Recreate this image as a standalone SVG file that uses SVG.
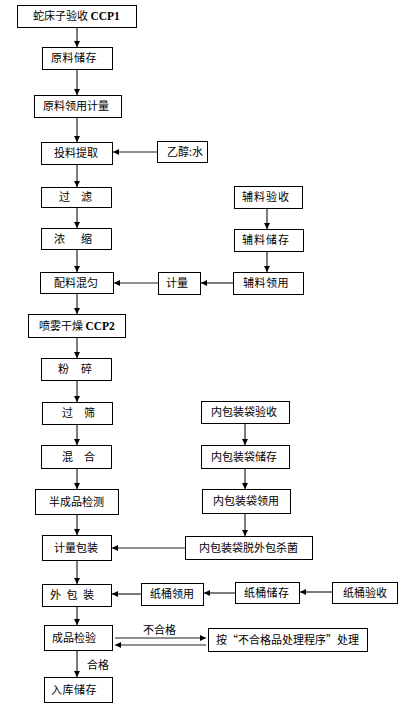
<svg xmlns="http://www.w3.org/2000/svg" width="412" height="709" viewBox="0 0 412 709">
<style>
.b{fill:#fff;stroke:#000;stroke-width:1}
.t{font-family:"Noto Sans CJK SC","Noto Sans",sans-serif;font-size:11px;fill:#000}
.e{font-family:"Liberation Serif",serif;font-weight:bold;font-size:11.5px}
.c line{stroke:#222;stroke-width:1.2;marker-end:url(#ah)}
</style>
<defs>
<marker id="ah" viewBox="0 0 8 8" refX="8" refY="4" markerWidth="6" markerHeight="6" markerUnits="userSpaceOnUse" orient="auto">
<path d="M0,0L8,4L0,8z" fill="#000"/>
</marker>
</defs>
<rect width="412" height="709" fill="#fff"/>
<g id="connectors" class="c">
<line x1="77" y1="27" x2="77" y2="47"/>
<line x1="77" y1="70" x2="77" y2="95"/>
<line x1="77" y1="117" x2="77" y2="142"/>
<line x1="77" y1="164" x2="77" y2="187"/>
<line x1="77" y1="207" x2="77" y2="228"/>
<line x1="77" y1="249" x2="77" y2="272"/>
<line x1="77" y1="293" x2="77" y2="314"/>
<line x1="77" y1="337" x2="77" y2="358"/>
<line x1="77" y1="380" x2="77" y2="402"/>
<line x1="77" y1="424" x2="77" y2="445"/>
<line x1="77" y1="468" x2="77" y2="489"/>
<line x1="77" y1="514" x2="77" y2="535"/>
<line x1="77" y1="560" x2="77" y2="584"/>
<line x1="77" y1="606" x2="77" y2="625"/>
<line x1="77" y1="650" x2="77" y2="677"/>
<line x1="157" y1="152" x2="113" y2="152"/>
<line x1="158" y1="283" x2="114" y2="283"/>
<line x1="233" y1="283" x2="201" y2="283"/>
<line x1="267" y1="208" x2="267" y2="229"/>
<line x1="267" y1="251" x2="267" y2="272"/>
<line x1="245" y1="423" x2="245" y2="445"/>
<line x1="245" y1="468" x2="245" y2="489"/>
<line x1="245" y1="513" x2="245" y2="536"/>
<line x1="185" y1="548" x2="112" y2="548"/>
<line x1="141" y1="594" x2="112" y2="594"/>
<line x1="235" y1="593" x2="204" y2="593"/>
<line x1="332" y1="592" x2="300" y2="592"/>
<line x1="115" y1="638" x2="206" y2="638"/>
<line x1="206" y1="645" x2="115" y2="645"/>
</g>
<g id="n1"><rect class="b" x="17.5" y="5.5" width="119" height="22"/><text class="t" x="33" y="20">蛇床子验收 <tspan class="e">CCP1</tspan></text></g>
<g id="n2"><rect class="b" x="42.5" y="47.5" width="70" height="22"/><text class="t" x="51" y="62" letter-spacing="0.5">原料储存</text></g>
<g id="n3"><rect class="b" x="34.5" y="95.5" width="87" height="22"/><text class="t" x="43" y="110">原料领用计量</text></g>
<g id="n4"><rect class="b" x="41.5" y="142.5" width="71" height="22"/><text class="t" x="54" y="157">投料提取</text></g>
<g id="n5"><rect class="b" x="157.5" y="141.5" width="50" height="21"/><text class="t" x="167" y="156">乙醇:水</text></g>
<g id="n6"><rect class="b" x="41.5" y="187.5" width="70" height="20"/><text class="t" x="59" y="201">过　滤</text></g>
<g id="n7"><rect class="b" x="41.5" y="228.5" width="70" height="21"/><text class="t" x="54" y="243" letter-spacing="2.5">浓　缩</text></g>
<g id="n8"><rect class="b" x="40.5" y="272.5" width="73" height="21"/><text class="t" x="54" y="287">配料混匀</text></g>
<g id="n9"><rect class="b" x="158.5" y="272.5" width="42" height="22"/><text class="t" x="166" y="287">计量</text></g>
<g id="n10"><rect class="b" x="28.5" y="314.5" width="97" height="23"/><text class="t" x="39" y="330">喷雾干燥 <tspan class="e">CCP2</tspan></text></g>
<g id="n11"><rect class="b" x="41.5" y="358.5" width="70" height="22"/><text class="t" x="58" y="373" letter-spacing="0.5">粉　碎</text></g>
<g id="n12"><rect class="b" x="42.5" y="402.5" width="70" height="22"/><text class="t" x="62" y="417">过　筛</text></g>
<g id="n13"><rect class="b" x="41.5" y="445.5" width="70" height="23"/><text class="t" x="62" y="461">混　合</text></g>
<g id="n14"><rect class="b" x="35.5" y="489.5" width="83" height="25"/><text class="t" x="49" y="506">半成品检测</text></g>
<g id="n15"><rect class="b" x="42.5" y="535.5" width="69" height="25"/><text class="t" x="54" y="552">计量包装</text></g>
<g id="n16"><rect class="b" x="42.5" y="584.5" width="69" height="22"/><text class="t" x="50" y="599" letter-spacing="5.5">外包装</text></g>
<g id="n17"><rect class="b" x="44.5" y="625.5" width="68" height="25"/><text class="t" x="52" y="642">成品检验</text></g>
<g id="n18"><rect class="b" x="44.5" y="677.5" width="68" height="25"/><text class="t" x="51" y="694" letter-spacing="0.5">入库储存</text></g>
<g id="n19"><rect class="b" x="234.5" y="186.5" width="68" height="22"/><text class="t" x="242" y="201" letter-spacing="1">辅料验收</text></g>
<g id="n20"><rect class="b" x="234.5" y="229.5" width="69" height="22"/><text class="t" x="242" y="244" letter-spacing="1">辅料储存</text></g>
<g id="n21"><rect class="b" x="233.5" y="272.5" width="70" height="22"/><text class="t" x="243" y="287" letter-spacing="0.5">辅料领用</text></g>
<g id="n22"><rect class="b" x="201.5" y="401.5" width="88" height="22"/><text class="t" x="211" y="416">内包装袋验收</text></g>
<g id="n23"><rect class="b" x="201.5" y="445.5" width="88" height="23"/><text class="t" x="211" y="461">内包装袋储存</text></g>
<g id="n24"><rect class="b" x="202.5" y="489.5" width="88" height="24"/><text class="t" x="213" y="505">内包装袋领用</text></g>
<g id="n25"><rect class="b" x="185.5" y="536.5" width="127" height="23"/><text class="t" x="199" y="552">内包装袋脱外包杀菌</text></g>
<g id="n26"><rect class="b" x="141.5" y="583.5" width="62" height="22"/><text class="t" x="150" y="598">纸桶领用</text></g>
<g id="n27"><rect class="b" x="235.5" y="582.5" width="64" height="21"/><text class="t" x="244" y="597" letter-spacing="0.3">纸桶储存</text></g>
<g id="n28"><rect class="b" x="332.5" y="582.5" width="65" height="21"/><text class="t" x="343" y="597">纸桶验收</text></g>
<g id="n29"><rect class="b" x="208.5" y="628.5" width="159" height="23"/><text class="t" x="216" y="644">按“不合格品处理程序”处理</text></g>
<text class="t" x="143" y="634">不合格</text>
<text class="t" x="87" y="669">合格</text>
</svg>
